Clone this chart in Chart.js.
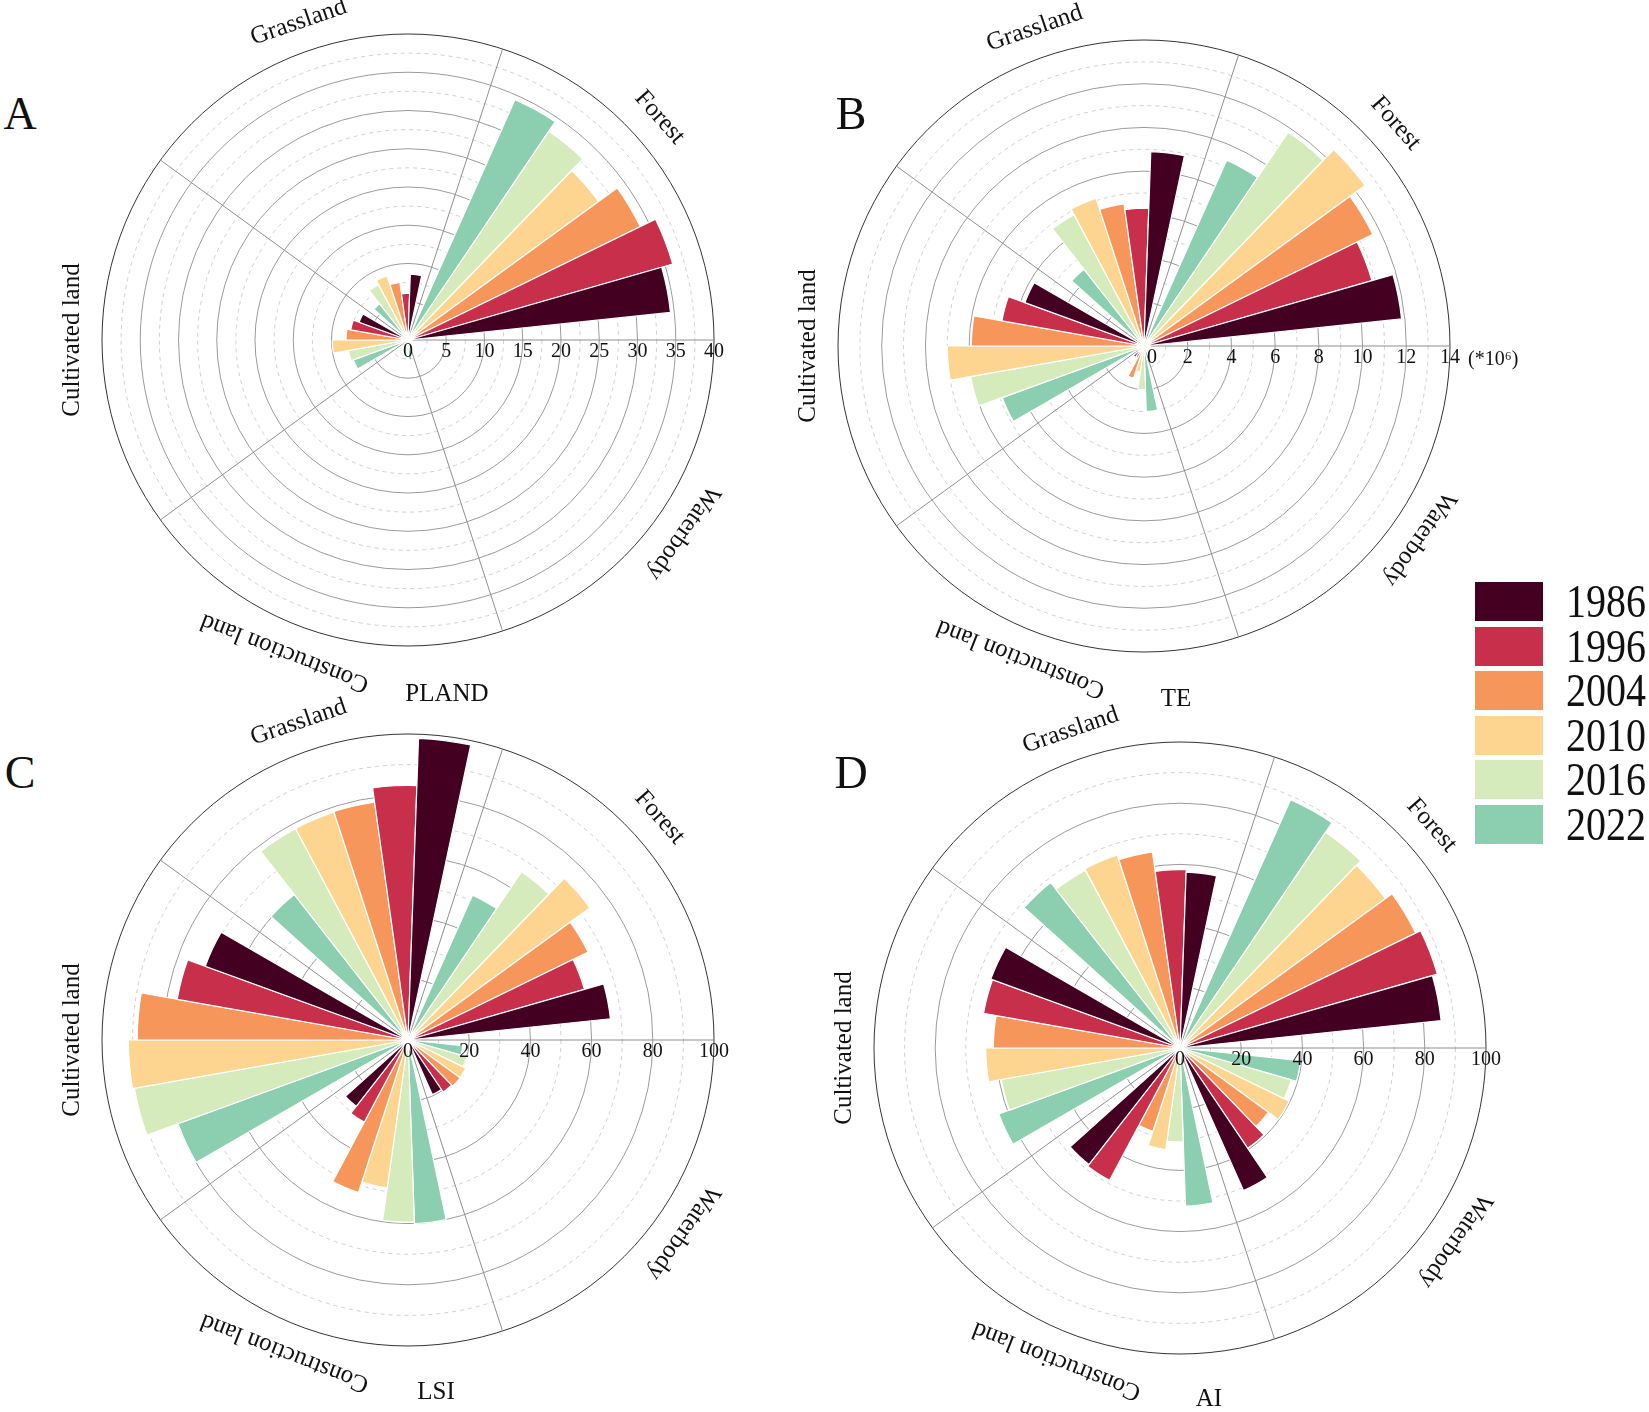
<!DOCTYPE html>
<html>
<head>
<meta charset="utf-8">
<script src="https://cdn.jsdelivr.net/npm/chart.js@4.4.1/dist/chart.umd.min.js"></script>
<style>
  html, body { margin:0; padding:0; background:#fff; }
  body { width:1649px; height:1412px; position:relative; overflow:hidden; font-family:"Liberation Serif","Times New Roman",serif; color:#111; }
  canvas { position:absolute; }
  .letter { position:absolute; font-size:46px; line-height:1; transform:translate(-50%,-50%); }
  .title { position:absolute; font-size:25px; line-height:1; transform:translate(-50%,-50%); }
  .unit { position:absolute; font-size:20px; line-height:1; transform:translate(0,-50%); white-space:nowrap; }
  .legend { position:absolute; left:1475px; top:582px; z-index:5; }
  .legend .row { position:absolute; left:0; width:180px; height:39px; }
  .legend .box { position:absolute; left:0; top:0; width:68px; height:39px; }
  .legend .lab { position:absolute; left:91px; top:0; height:39px; line-height:39px; font-size:40px; transform:scaleY(1.15); transform-origin:left center; }
</style>
</head>
<body>
<canvas id="cA" width="720" height="720" style="left:48px;top:-20px"></canvas>
<canvas id="cB" width="720" height="720" style="left:784px;top:-14px"></canvas>
<canvas id="cC" width="720" height="720" style="left:48px;top:680px"></canvas>
<canvas id="cD" width="720" height="720" style="left:820px;top:688px"></canvas>

<div class="letter" style="left:20px;top:114px">A</div>
<div class="letter" style="left:851px;top:114px">B</div>
<div class="letter" style="left:20px;top:773px">C</div>
<div class="letter" style="left:851px;top:773px">D</div>

<div class="title" style="left:447px;top:692px">PLAND</div>
<div class="title" style="left:1176px;top:697px">TE</div>
<div class="title" style="left:436px;top:1390px">LSI</div>
<div class="title" style="left:1209px;top:1397px">AI</div>

<div class="unit" id="teUnit" style="left:1468px;top:358px"></div>

<div class="legend" id="legend"></div>

<script>
// ---------- data ----------
const years = ['1986', '1996', '2004', '2010', '2016', '2022'];
const yearColors = ['#430020', '#c82f4b', '#f7965a', '#fed590', '#d5ebbb', '#8ccfb0'];
const categories = ['Forest', 'Grassland', 'Cultivated land', 'Construction land', 'Waterbody'];

// PLAND (%)
const plandForest       = [34.5, 36.0, 33.8, 30.8, 32.9, 34.4];
const plandGrassland    = [8.6, 6.1, 7.6, 8.8, 8.2, 6.0];
const plandCultivated   = [6.8, 7.6, 8.1, 9.9, 7.9, 7.6];
const plandConstruction = [0.4, 0.5, 0.7, 0.9, 1.3, 2.6];
const plandWaterbody    = [0.6, 0.6, 0.6, 0.6, 0.6, 0.6];
const plandTicks = [0, 5, 10, 15, 20, 25, 30, 35, 40];

// TE (*10^6)
const teForest       = [11.85, 10.85, 11.65, 12.5, 11.8, 9.3];
const teGrassland    = [8.9, 6.3, 6.57, 7.1, 6.8, 4.45];
const teCultivated   = [5.8, 6.6, 7.9, 9.0, 8.05, 6.9];
const teConstruction = [0.65, 0.6, 1.55, 1.2, 2.0, 3.0];
const teWaterbody    = [0.3, 0.3, 0.3, 0.3, 0.3, 0.3];
const teTicks = [0, 2, 4, 6, 8, 10, 12, 14];
const teUnit = '(*10\u2076)';

// LSI
const lsiForest       = [66.5, 60.0, 65.5, 73.5, 66.3, 51.8];
const lsiGrassland    = [98.6, 83.2, 78.5, 78.3, 78.2, 60.3];
const lsiCultivated   = [70.5, 76.6, 88.5, 91.4, 90.8, 80.0];
const lsiConstruction = [27.5, 30.4, 52.4, 48.8, 59.5, 60.0];
const lsiWaterbody    = [19.5, 20.5, 21.0, 21.0, 20.0, 18.0];
const lsiTicks = [0, 20, 40, 60, 80, 100];

// AI
const aiForest       = [85.8, 87.5, 85.7, 83.0, 85.0, 88.8];
const aiGrassland    = [57.5, 58.3, 64.7, 66.3, 65.8, 68.6];
const aiCultivated   = [65.8, 65.2, 61.0, 63.5, 59.3, 63.0];
const aiConstruction = [48.3, 49.0, 28.6, 33.5, 30.7, 51.7];
const aiWaterbody    = [51.0, 39.5, 35.7, 39.7, 37.8, 39.6];
const aiTicks = [0, 20, 40, 60, 80, 100];

// label angles (degrees, counter-clockwise from east)
const categoryLabelAngles = [41.5, 109, 180, 248.5, 325];

// ---------- build ----------
const FONT = '"Liberation Serif","Times New Roman",serif';
const CLEAR = 'rgba(0,0,0,0)';

function buildSeries(byCat) {
  // clockwise from east: Waterbody, Construction, Cultivated, Grassland, Forest (years reversed)
  const values = [0], angles = [6], colors = [CLEAR], gaps = [true];
  [4, 3, 2, 1, 0].forEach((k, j) => {
    if (j > 0) { values.push(0); angles.push(12); colors.push(CLEAR); gaps.push(true); }
    for (let y = years.length - 1; y >= 0; y--) {
      values.push(byCat[k][y]); angles.push(10); colors.push(yearColors[y]); gaps.push(false);
    }
  });
  values.push(0); angles.push(6); colors.push(CLEAR); gaps.push(true);
  return { values, angles, colors, gaps };
}

const textPlugin = {
  id: 'panelText',
  afterDraw(chart, args, opts) {
    const s = chart.scales.r, ctx = chart.ctx;
    const cx = s.xCenter, cy = s.yCenter, R = s.drawingArea;
    ctx.save();
    ctx.fillStyle = '#111';
    ctx.font = '20px ' + FONT;
    ctx.textAlign = 'center';
    ctx.textBaseline = 'middle';
    opts.ticks.forEach((t, i) => {
      const d = s.getDistanceFromCenterForValue(t);
      ctx.fillText(String(t), cx + d + (i === 0 ? opts.zeroShift : 0), cy + 12);
    });
    ctx.font = '25px ' + FONT;
    categories.forEach((c, k) => {
      const a = categoryLabelAngles[k] * Math.PI / 180;
      const r = R + 30;
      ctx.save();
      ctx.translate(cx + r * Math.cos(a), cy - r * Math.sin(a));
      ctx.rotate(Math.PI / 2 - a);
      ctx.fillText(c, 0, 0);
      ctx.restore();
    });
    ctx.restore();
  }
};

function makePanel(id, byCat, ticks, max, step, major, zeroShift) {
  const ser = buildSeries(byCat);
  const isMajor = v => Math.abs(v / major - Math.round(v / major)) < 1e-6;
  new Chart(document.getElementById(id), {
    type: 'polarArea',
    data: {
      labels: categories,
      datasets: [{
        data: ser.values,
        backgroundColor: ser.colors,
        borderColor: '#ffffff',
        borderWidth: c => ser.gaps[c.dataIndex] ? 0 : 1.2,
        angle: c => ser.angles[c.dataIndex]
      }]
    },
    options: {
      responsive: false,
      animation: false,
      devicePixelRatio: 1,
      layout: { padding: 54 },
      plugins: {
        legend: { display: false },
        tooltip: { enabled: false },
        panelText: { ticks: ticks, zeroShift: zeroShift }
      },
      scales: {
        r: {
          min: 0, max: max,
          startAngle: 90,
          ticks: { display: false, stepSize: step },
          pointLabels: { display: false },
          angleLines: { display: true, color: '#8f8f8f', lineWidth: 1 },
          grid: {
            circular: true,
            lineWidth: 1,
            color: c => {
              const v = c.tick.value;
              if (Math.abs(v - max) < 1e-6) return '#333333';
              return isMajor(v) ? '#9a9a9a' : '#cfcfcf';
            },
            borderDash: c => isMajor(c.tick.value) ? [] : [4, 4]
          },
          border: {
            dash: c => (c.tick && !isMajor(c.tick.value)) ? [4, 4] : []
          }
        }
      }
    },
    plugins: [textPlugin]
  });
}

makePanel('cA', [plandForest, plandGrassland, plandCultivated, plandConstruction, plandWaterbody], plandTicks, 40, 2.5, 5, 0);
makePanel('cB', [teForest, teGrassland, teCultivated, teConstruction, teWaterbody], teTicks, 14, 1, 2, 8);
makePanel('cC', [lsiForest, lsiGrassland, lsiCultivated, lsiConstruction, lsiWaterbody], lsiTicks, 100, 10, 20, 0);
makePanel('cD', [aiForest, aiGrassland, aiCultivated, aiConstruction, aiWaterbody], aiTicks, 100, 10, 20, 0);

document.getElementById('teUnit').textContent = teUnit;

// legend
const lg = document.getElementById('legend');
years.forEach((y, i) => {
  const row = document.createElement('div');
  row.className = 'row';
  row.style.top = (i * 44.6) + 'px';
  row.innerHTML = '<div class="box" style="background:' + yearColors[i] + '"></div><div class="lab">' + y + '</div>';
  lg.appendChild(row);
});
</script>
</body>
</html>
